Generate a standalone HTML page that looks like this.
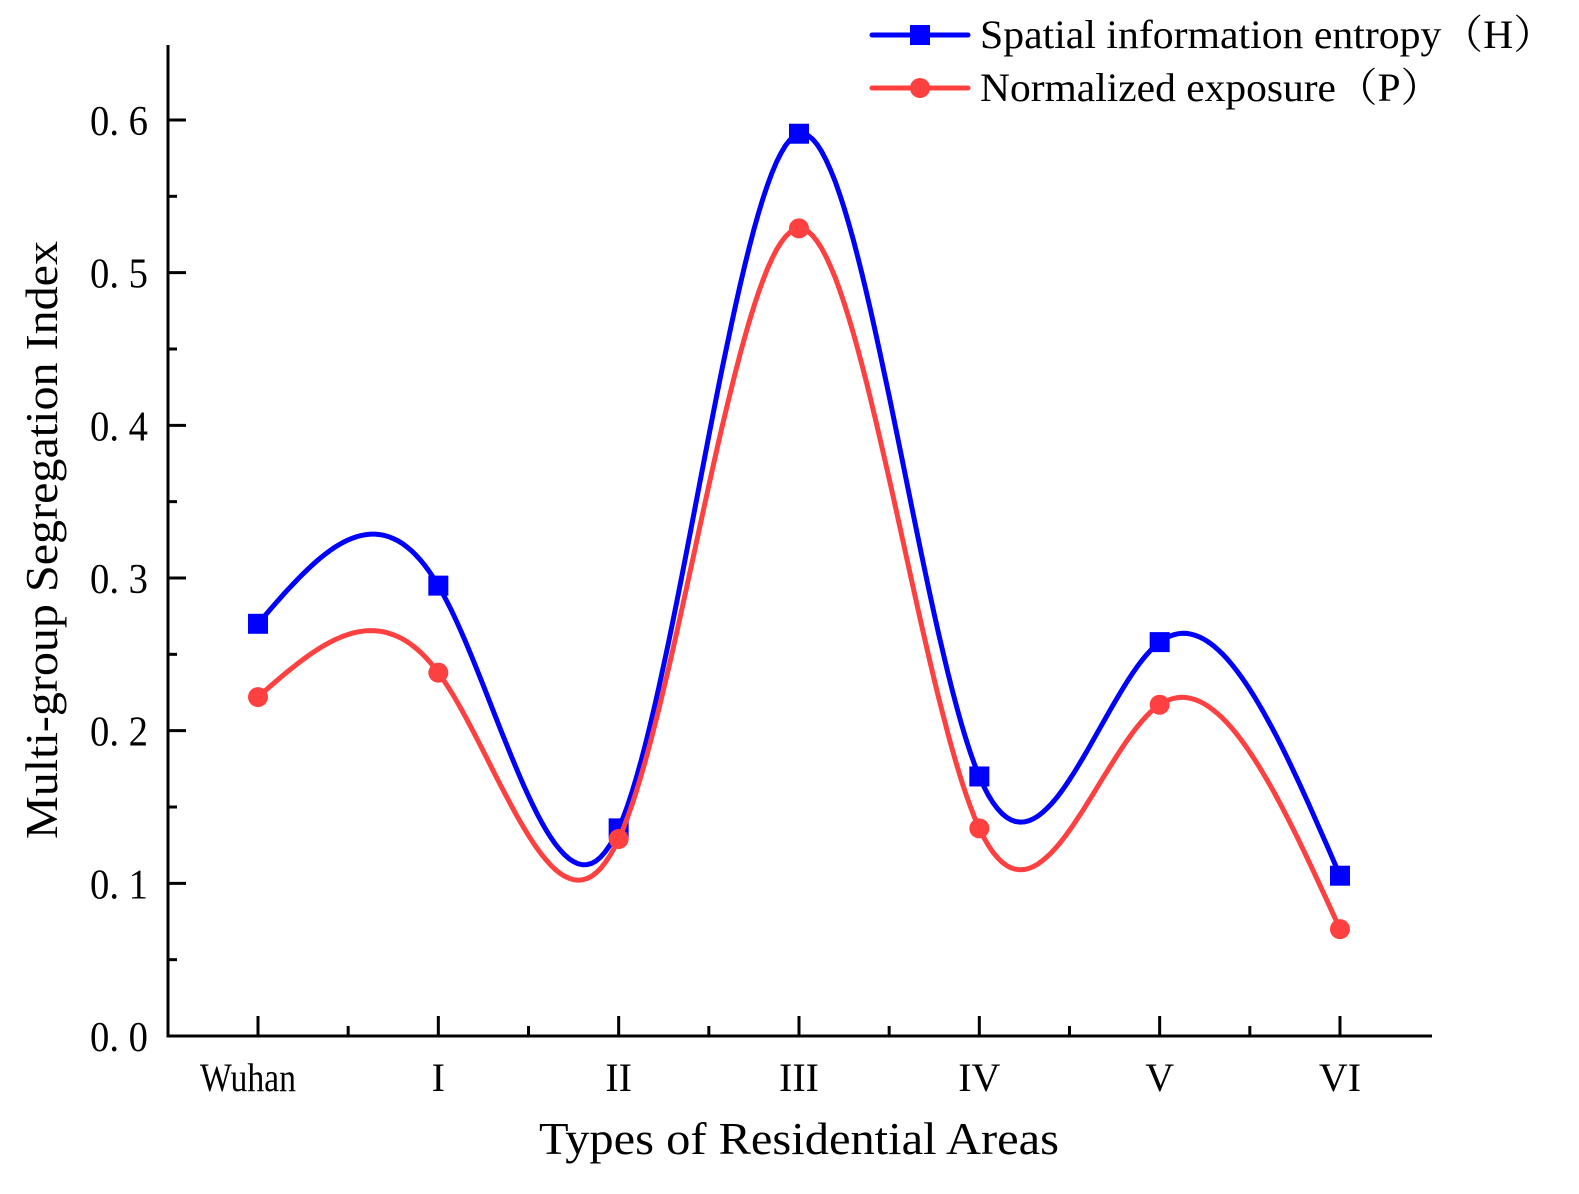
<!DOCTYPE html>
<html><head><meta charset="utf-8"><style>
html,body{margin:0;padding:0;background:#fff;}
svg{display:block;font-family:"Liberation Serif","Noto Serif CJK SC",serif;}
</style></head><body>
<svg id="chart" width="1579" height="1194" viewBox="0 0 1579 1194" xmlns="http://www.w3.org/2000/svg">
<g id="axes"></g>
<g id="series"></g>
<text transform="translate(57,540) rotate(-90)" text-anchor="middle" font-size="46" textLength="598" lengthAdjust="spacingAndGlyphs">Multi-group Segregation Index</text>
<text x="799" y="1154" text-anchor="middle" font-size="46" textLength="520" lengthAdjust="spacingAndGlyphs">Types of Residential Areas</text>
<g>
<g>
<line x1="872" y1="35" x2="968" y2="35" stroke="#0000ff" stroke-width="5" stroke-linecap="round"/>
<rect x="910" y="25" width="20" height="20" fill="#0000ff"/>
<text x="980" y="48" font-size="40" textLength="575" lengthAdjust="spacingAndGlyphs">Spatial information entropy（H）</text>
</g>
<g>
<line x1="872" y1="88" x2="968" y2="88" stroke="#ff4040" stroke-width="5" stroke-linecap="round"/>
<circle cx="920" cy="88" r="10" fill="#ff4040"/>
<text x="980" y="101" font-size="40" textLength="462" lengthAdjust="spacingAndGlyphs">Normalized exposure（P）</text>
</g>
</g>
</svg>
<script>
const categories = ["Wuhan","I","II","III","IV","V","VI"];
const seriesH = [0.270,0.295,0.136,0.591,0.170,0.258,0.105];
const seriesP = [0.222,0.238,0.129,0.529,0.136,0.217,0.070];
const yTicks = [0,0.1,0.2,0.3,0.4,0.5,0.6];
const yTickLabels = ["0. 0","0. 1","0. 2","0. 3","0. 4","0. 5","0. 6"];

const NS="http://www.w3.org/2000/svg";
const X0=168, X1=1432, Y0=1036, YTOP=45;
const xScale=i=>258+i*180.33;
const yScale=v=>Y0-v*1526.7;
function mk(tag,attrs,parent){const e=document.createElementNS(NS,tag);for(const k in attrs)e.setAttribute(k,attrs[k]);parent.appendChild(e);return e;}
const axes=document.getElementById('axes');
const ya=mk('line',{x1:X0,y1:YTOP,x2:X0,y2:Y0+1.5,stroke:'#000','stroke-width':3},axes);


const xa=mk('line',{x1:X0-1.5,y1:Y0,x2:X1,y2:Y0,stroke:'#000','stroke-width':3},axes);


yTicks.forEach((v,i)=>{
  mk('line',{x1:X0,y1:yScale(v),x2:X0+18,y2:yScale(v),stroke:'#000','stroke-width':3},axes);
  const m=yScale(v+0.05);
  if(m>YTOP) mk('line',{x1:X0,y1:m,x2:X0+9,y2:m,stroke:'#000','stroke-width':3},axes);
  const t=mk('text',{x:148,y:yScale(v)+15,'text-anchor':'end','font-size':42,textLength:58,lengthAdjust:'spacingAndGlyphs'},axes);
  t.textContent=yTickLabels[i];
  
  
});
categories.forEach((c,i)=>{
  const x=xScale(i);
  mk('line',{x1:x,y1:Y0,x2:x,y2:Y0-20,stroke:'#000','stroke-width':3},axes);
  if(i<categories.length-1) mk('line',{x1:x+90.17,y1:Y0,x2:x+90.17,y2:Y0-10,stroke:'#000','stroke-width':3},axes);
  const t=mk('text',{x:i==0?x-10:x,y:1091,'text-anchor':'middle','font-size':40},axes);
  if(i==0){t.setAttribute('textLength',96);t.setAttribute('lengthAdjust','spacingAndGlyphs');}
  t.textContent=c;
  
  
});
function spline(xs,ys){
  const n=xs.length,h=[],a=[],l=[1],mu=[0],z=[0],c=new Array(n).fill(0),b=[],d=[];
  for(let i=0;i<n-1;i++)h.push(xs[i+1]-xs[i]);
  for(let i=1;i<n-1;i++)a[i]=3/h[i]*(ys[i+1]-ys[i])-3/h[i-1]*(ys[i]-ys[i-1]);
  for(let i=1;i<n-1;i++){l[i]=2*(xs[i+1]-xs[i-1])-h[i-1]*mu[i-1];mu[i]=h[i]/l[i];z[i]=(a[i]-h[i-1]*z[i-1])/l[i];}
  for(let j=n-2;j>=0;j--){c[j]=(j>0?z[j]-mu[j]*c[j+1]:0);b[j]=(ys[j+1]-ys[j])/h[j]-h[j]*(c[j+1]+2*c[j])/3;d[j]=(c[j+1]-c[j])/(3*h[j]);}
  let p='';
  for(let j=0;j<n-1;j++)for(let k=0;k<=40;k++){const t=h[j]*k/40;const y=ys[j]+b[j]*t+c[j]*t*t+d[j]*t*t*t;p+=(p?'L':'M')+(xs[j]+t).toFixed(1)+','+y.toFixed(1);}
  return p;
}
const sg=document.getElementById('series');
function draw(vals,color,name,marker){
  const xs=vals.map((v,i)=>xScale(i)),ys=vals.map(v=>yScale(v));
  const path=mk('path',{d:spline(xs,ys),fill:'none',stroke:color,'stroke-width':5},sg);
  
  
  vals.forEach((v,i)=>{
    let e;
    if(marker=='sq') e=mk('rect',{x:xScale(i)-10,y:yScale(v)-10,width:20,height:20,fill:color},sg);
    else e=mk('circle',{cx:xScale(i),cy:yScale(v),r:10,fill:color},sg);
    
    
  });
}
draw(seriesH,'#0000ff','entropy-h','sq');
draw(seriesP,'#ff4040','exposure-p','ci');
</script>
</body></html>
